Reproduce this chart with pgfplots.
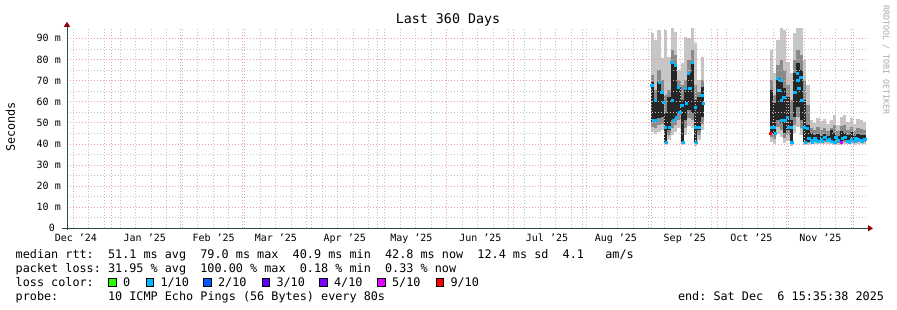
\documentclass[border=0pt]{standalone}
\usepackage{pgfplots}
\pgfplotsset{compat=1.18}
\usepackage{pgfplotstable}
\usetikzlibrary{arrows.meta}
\usepackage{fontspec}
\setmainfont{DejaVu Sans Mono}
\setmonofont{DejaVu Sans Mono}
\definecolor{axiscol}{HTML}{2C4D43}
\definecolor{arrowcol}{HTML}{8B0000}
\definecolor{gridcol}{HTML}{C4C4C4}
\definecolor{mgridcol}{HTML}{EE9E9E}
\definecolor{smokeL}{HTML}{C6C6C6}
\definecolor{smokeM}{HTML}{8A8A8A}
\definecolor{smokeD}{HTML}{262626}
\definecolor{loss0}{HTML}{26FF00}
\definecolor{loss1}{HTML}{00B8FF}
\definecolor{loss2}{HTML}{0059FF}
\definecolor{loss3}{HTML}{5E00FF}
\definecolor{loss4}{HTML}{7E00FF}
\definecolor{loss5}{HTML}{DD00FF}
\definecolor{loss9}{HTML}{FF0000}
\definecolor{wmark}{HTML}{AAAAAA}
\newcommand\axfont{\fontsize{10}{12}\selectfont}
\newcommand\lgfont{\fontsize{11.8}{14}\selectfont}
\newcommand\ttlfont{\fontsize{13.3}{16}\selectfont}
\newcommand\wmfont{\fontsize{8.3}{10}\selectfont}

% smoke columns: x = days since 1 Jan 2025, values in ms
\pgfplotstableread{
x lo mlo dlo dhi mhi hi
243.6 45.5 47.9 50.3 69.3 72.6 92.5
245.1 44.6 47.4 50.3 60.7 65.5 89.2
246.6 45.5 48.9 52.2 69.3 75.0 93.9
248.1 46.5 49.3 52.7 64.5 70.2 80.6
249.6 39.4 40.3 40.8 54.6 63.1 93.9
251.1 41.7 44.1 46.5 62.1 65.5 81.1
252.6 44.1 47.4 51.2 78.8 84.4 94.9
254.1 45.5 48.9 52.2 77.3 82.1 93.0
255.6 47.4 51.2 54.6 66.9 70.2 75.0
257.1 39.4 40.3 40.8 60.7 67.8 78.3
258.6 44.1 47.4 51.2 66.9 70.2 90.6
260.1 48.4 52.2 56.0 73.5 79.7 90.1
261.6 47.4 51.2 54.6 78.8 84.4 94.9
263.1 38.9 40.3 40.8 60.7 67.8 87.8
264.6 41.7 44.1 46.5 62.1 64.5 70.2
266.1 46.5 49.3 52.7 66.9 70.2 81.1
}\smokeA

\pgfplotstableread{
x lo mlo dlo dhi mhi hi
297.1 40.8 43.2 45.1 65.5 70.2 84.4
298.6 39.8 42.2 44.1 59.3 63.1 73.5
300.1 44.6 47.9 51.2 71.2 77.3 89.2
301.6 43.2 46.5 49.8 70.2 79.7 94.9
303.1 40.3 42.7 45.1 66.4 75.0 93.9
304.6 41.3 44.1 46.5 62.1 67.8 78.8
306.1 38.9 40.3 40.8 51.2 60.7 73.5
307.6 45.1 48.9 52.7 73.5 79.7 92.5
309.1 47.9 52.7 57.4 78.3 84.4 94.9
310.6 44.1 47.4 51.2 75.0 82.1 94.9
312.1 39.4 40.8 40.8 60.7 70.2 79.7
313.6 39.4 40.3 40.8 48.9 58.4 67.8
315.1 39.8 40.8 41.3 45.1 47.4 51.2
316.6 39.8 40.8 41.7 44.1 46.5 49.8
318.1 39.8 40.8 41.3 44.6 47.9 52.2
319.6 39.8 40.8 41.3 43.6 46.5 50.8
321.1 39.8 40.8 41.7 44.6 47.4 51.7
322.6 39.8 40.8 41.3 43.6 46.0 49.3
324.1 39.8 40.8 41.3 46.5 47.4 51.2
325.6 39.4 40.3 40.8 45.1 48.9 53.6
327.1 39.4 40.3 40.8 43.6 46.0 48.9
328.6 39.4 40.3 40.8 46.0 48.4 52.7
330.1 39.8 40.8 41.7 45.1 48.9 53.6
331.6 39.8 40.8 41.3 44.1 46.5 50.3
333.1 39.8 40.8 41.3 45.5 47.9 52.2
334.6 39.4 40.3 40.8 43.6 46.0 49.3
336.1 39.8 40.8 41.7 44.6 47.4 51.7
337.6 39.8 40.8 41.3 44.1 47.0 51.2
339.1 39.8 40.8 41.7 44.1 46.5 50.3
}\smokeB

\pgfplotstableread{
x y
243.3 67.8
243.9 51.2
244.8 60.7
245.4 51.2
246.6 69.3
247.8 64.5
248.4 59.8
249.3 47.9
249.9 40.8
251.1 47.9
252.3 78.8
252.6 60.7
252.9 51.2
253.8 77.3
254.4 52.7
255.3 66.9
255.9 55.0
256.8 58.4
257.4 40.8
258.3 66.4
258.9 59.3
259.8 73.5
260.4 66.4
261.6 78.8
262.8 57.4
263.1 47.9
263.4 40.8
264.6 47.9
265.8 63.1
266.4 59.3
297.3 47.9
298.3 47.9
298.9 45.1
299.8 71.2
300.4 65.5
301.3 70.2
301.6 60.7
301.9 51.2
302.8 62.1
303.4 51.2
304.3 52.7
304.9 47.9
305.8 47.9
306.4 40.8
307.6 64.5
308.8 73.5
309.1 70.2
309.4 66.4
310.3 71.6
310.9 60.7
311.8 47.9
312.4 40.8
313.3 47.4
313.9 42.7
315.1 41.7
315.6 40.8
316.6 42.7
317.1 41.7
318.1 41.3
319.6 42.2
320.1 41.3
321.1 43.2
322.6 41.7
323.1 42.2
324.1 41.3
325.6 40.8
326.1 43.2
327.1 41.7
329.1 42.7
330.1 43.2
331.6 41.3
332.1 40.8
333.1 42.2
334.6 41.3
335.1 42.7
336.1 42.2
337.6 41.7
338.1 41.3
339.1 42.2
}\medianA

\pgfplotsset{smoke/.style n args={3}{forget plot, mark=none, draw=#1, line width=3.45pt,
  quiver={u=0, v=\thisrow{#3}-\thisrow{#2}}}}

\begin{document}
\begin{tikzpicture}
\useasboundingbox (0,0) rectangle (897pt,310pt);
\fill[white] (0,0) rectangle (897pt,310pt);
\begin{axis}[
  at={(67pt,81.7pt)}, anchor=south west,
  scale only axis, width=800pt, height=200pt,
  xmin=-19.8, xmax=340.2, ymin=0, ymax=94.75,
  axis on top,
  axis x line*=bottom, axis y line*=left,
  x axis line style={draw=axiscol, line width=1pt, shorten <=-5pt, shorten >=-6pt,
    -{Triangle[length=5pt,width=6pt,color=arrowcol]}},
  y axis line style={draw=axiscol, line width=1pt, shorten <=-2pt, shorten >=-6.5pt,
    -{Triangle[length=5pt,width=6pt,color=arrowcol]}},
  tick style={draw=none},
  major tick length=0pt, minor tick length=0pt,
  xtick={-15.8,15.2,46.2,74.2,105.2,135.2,166.2,196.2,227.2,258.2,288.2,319.2},
  xticklabels={Dec~'24,Jan~'25,Feb~'25,Mar~'25,Apr~'25,May~'25,Jun~'25,Jul~'25,Aug~'25,Sep~'25,Oct~'25,Nov~'25},
  xmajorgrids=false,
  extra x ticks={0,31,59,90,120,151,181,212,243,273,304,334},
  extra x tick labels={},
  extra x tick style={grid=major},
  minor xtick={-17,-10,...,333},
  xminorgrids=true,
  ytick={0,10,...,90},
  yticklabels={0~~,10~m,20~m,30~m,40~m,50~m,60~m,70~m,80~m,90~m},
  minor ytick={5,15,...,85},
  ymajorgrids=true, yminorgrids=true,
  major grid style={draw=mgridcol, line width=0.7pt, dash pattern=on 1pt off 2pt},
  minor grid style={draw=gridcol, line width=0.7pt, dash pattern=on 1pt off 2pt},
  xticklabel style={font=\axfont, anchor=base, inner sep=0pt, yshift=-12.8pt},
  yticklabel style={font=\axfont, anchor=east, inner sep=0pt, xshift=-6pt},
]
\addplot[smoke={smokeL}{lo}{hi}] table[x=x, y=lo] {\smokeA};
\addplot[smoke={smokeM}{mlo}{mhi}] table[x=x, y=mlo] {\smokeA};
\addplot[smoke={smokeD}{dlo}{dhi}] table[x=x, y=dlo] {\smokeA};
\addplot[smoke={smokeL}{lo}{hi}] table[x=x, y=lo] {\smokeB};
\addplot[smoke={smokeM}{mlo}{mhi}] table[x=x, y=mlo] {\smokeB};
\addplot[smoke={smokeD}{dlo}{dhi}] table[x=x, y=dlo] {\smokeB};
\addplot[only marks, mark=square*, mark size=1.2pt, color=loss1, mark options={draw=none}] table {\medianA};
\addplot[only marks, mark=square*, mark size=1.2pt, color=loss9, mark options={draw=none}] coordinates {(296.6,45.1)};
\addplot[only marks, mark=square*, mark size=1.2pt, color=loss5, mark options={draw=none}] coordinates {(328.6,40.8)};
\end{axis}

% title, axis label, watermark
\node[font=\ttlfont, anchor=base] at (448pt,286pt) {Last~360~Days};
\node[font=\lgfont, rotate=90] at (10.5pt,183pt) {Seconds};
\node[font=\wmfont, text=wmark, rotate=-90] at (886pt,250pt) {RRDTOOL~/~TOBI~OETIKER};

% legend
\node[font=\lgfont, anchor=base west, inner sep=0pt] at (15.5pt,51.7pt)
  {median~rtt:~~51.1~ms~avg~~79.0~ms~max~~40.9~ms~min~~42.8~ms~now~~12.4~ms~sd~~4.1~~~am/s};
\node[font=\lgfont, anchor=base west, inner sep=0pt] at (15.5pt,37.7pt)
  {packet~loss:~31.95~\%~avg~~100.00~\%~max~~0.18~\%~min~~0.33~\%~now};
\node[font=\lgfont, anchor=base west, inner sep=0pt] at (15.5pt,23.5pt) {loss~color:};
\foreach \sx/\col/\lab in {108.3/loss0/0, 145.7/loss1/1\slash 10, 203.3/loss2/2\slash 10, 261.7/loss3/3\slash 10, 319.3/loss4/4\slash 10, 377.3/loss5/5\slash 10, 435.7/loss9/9\slash 10}{
  \filldraw[fill=\col, draw=black, line width=0.8pt] (\sx pt+0.4pt,23.9pt) rectangle (\sx pt+7.8pt,31.1pt);
  \node[font=\lgfont, anchor=base west, inner sep=0pt] at (\sx pt+14.6pt,23.5pt) {\lab};
}
\node[font=\lgfont, anchor=base west, inner sep=0pt] at (15.5pt,9.7pt)
  {probe:~~~~~~~10~ICMP~Echo~Pings~(56~Bytes)~every~80s};
\node[font=\lgfont, anchor=base west, inner sep=0pt] at (677.8pt,9.7pt)
  {end:~Sat~Dec~~6~15:35:38~2025};
\end{tikzpicture}
\end{document}
